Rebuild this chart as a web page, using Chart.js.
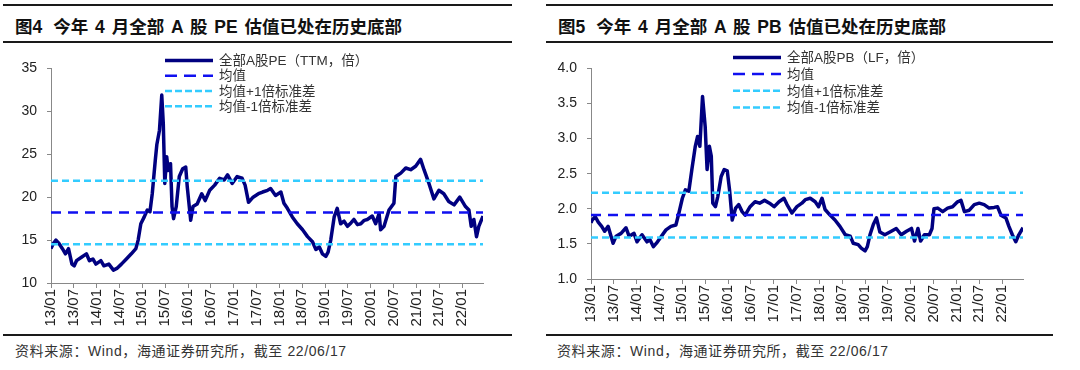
<!DOCTYPE html>
<html>
<head>
<meta charset="utf-8">
<script src="https://cdn.jsdelivr.net/npm/chart.js@4"></script>
<style>
body{margin:0;width:1080px;height:370px;background:#fff;position:relative;overflow:hidden;font-family:"Liberation Sans","Noto Sans CJK SC",sans-serif;color:#222}
.rule{position:absolute;height:2px;background:#1a1a1a}
.title{position:absolute;top:13px;font-weight:700;font-size:17.5px;white-space:pre;word-spacing:2px;color:#111}
.title span{margin-left:11px}
.src{position:absolute;top:340px;font-size:14px;letter-spacing:0.6px;white-space:pre;color:#333}
.box{position:absolute;top:50px}
</style>
</head>
<body>
<div class="rule" style="left:3px;top:4px;width:509px"></div>
<div class="title" style="left:15px">图4<span>今年 4 月全部 A 股 PE 估值已处在历史底部</span></div>
<div class="rule" style="left:3px;top:41px;width:509px"></div>
<div class="box" style="left:6px"><canvas id="pe" width="489" height="279"></canvas></div>
<div class="rule" style="left:3px;top:334px;width:509px"></div>
<div class="src" style="left:15px">资料来源：Wind，海通证券研究所，截至 22/06/17</div>

<div class="rule" style="left:546px;top:4px;width:507px"></div>
<div class="title" style="left:558px">图5<span>今年 4 月全部 A 股 PB 估值已处在历史底部</span></div>
<div class="rule" style="left:546px;top:41px;width:507px"></div>
<div class="box" style="left:546px"><canvas id="pb" width="489" height="275"></canvas></div>
<div class="rule" style="left:546px;top:334px;width:507px"></div>
<div class="src" style="left:557px">资料来源：Wind，海通证券研究所，截至 22/06/17</div>

<script>
// x positions are months since 2013/01
const xLabels = ['13/01','13/07','14/01','14/07','15/01','15/07','16/01','16/07','17/01','17/07',
  '18/01','18/07','19/01','19/07','20/01','20/07','21/01','21/07','22/01'];

const peMonths = [0,0.6,1.3,2.1,3,3.8,4.6,5.5,6.1,6.7,8,9.3,10.1,11,11.8,13.1,13.9,15.2,16.4,17.3,
  18.5,19.8,21.1,22.3,22.9,23.6,24.5,25.3,26,26.6,27.4,27.8,28.5,29.1,29.5,29.9,30.4,30.8,31.4,31.8,
  32.2,32.9,33.7,34.6,35.4,35.8,36.7,37.3,38.4,39.6,40.5,41.7,43,44.3,45.5,46.4,47.6,48.9,50.2,51,
  51.9,53.1,54.5,55.6,56.9,57.7,59,60.4,61.2,62.1,63.4,64.7,66.1,67.4,68.7,69.6,70.5,71.3,72.2,72.8,
  73.5,74.4,75.2,76.1,77,77.9,78.8,79.6,80.5,81.4,82.3,83.1,84.4,85.3,86.2,86.6,87.5,88.8,90.1,90.6,
  91.9,93.2,94.5,95.8,97.1,98,99.3,100.6,101.9,103.2,104.5,105.9,107.4,108.9,109.8,110.4,111.1,111.8,112.4,113.5];
const peValues = [14.0,14.6,15.0,14.6,14.0,13.4,14.0,12.2,12.0,12.6,13.0,13.4,12.6,12.8,12.2,12.6,12.0,12.2,11.5,11.7,
  12.2,12.8,13.4,14.0,15.0,16.9,17.7,18.5,18.3,20.4,24.3,26.1,27.8,31.9,28.6,21.6,24.7,23.1,23.9,18.9,
  17.5,18.9,22.4,23.3,23.5,21.2,17.3,18.9,19.2,20.4,19.6,20.8,21.4,22.2,22.0,22.6,21.6,22.4,22.2,21.4,
  19.4,20.0,20.4,20.6,20.8,21.0,20.2,20.6,19.3,18.7,17.7,16.9,16.2,15.4,14.8,13.9,14.2,13.4,13.1,13.6,
  15.0,17.7,18.7,16.9,17.2,16.6,17.0,17.4,16.8,16.9,17.3,17.4,17.8,16.9,18.1,16.2,16.6,18.5,19.3,22.4,
  22.8,23.4,23.2,23.6,24.4,23.2,21.6,19.8,20.8,20.4,19.5,19.1,20.0,18.9,18.5,16.6,17.4,15.4,16.6,17.8];
const peBands = [18.2, 21.9, 14.5];   // mean, mean+1sd, mean-1sd
const peNames = ['全部A股PE（TTM，倍）','均值','均值+1倍标准差','均值-1倍标准差'];

const pbMonths = [0,0.3,1.1,1.9,2.8,3.6,4.5,5.8,6.6,7.9,9.2,10,11.3,12.1,13.4,14.7,15.5,16.4,17.2,18.5,
  19.7,21,22.3,23.1,24,24.8,25.7,26.5,27.4,28,28.6,29.3,30,30.5,31.1,31.6,32,32.7,33.3,34.2,
  35,35.8,36.4,37.1,38,38.8,39.7,40.5,41.8,43.1,44.3,45.6,46.9,48.1,49.4,50.7,51.5,52.8,54.1,55.4,
  56.3,57.6,58.9,59.8,60.7,61.5,62.8,64.1,65.4,66.8,68.1,68.9,70.2,71,72,72.6,73.3,74.2,75,75.9,
  77.2,78.9,80.2,81.5,82.9,84.2,85,85.9,86.6,87.6,88.9,89.6,90.1,91.1,92.4,93.7,95,96.3,97.2,98.1,
  99.4,100.7,102,103.3,104.6,105.9,106.8,107.7,109,109.8,110.7,111.6,112.4,113.5];
const pbValues = [1.80,1.84,1.89,1.81,1.75,1.68,1.75,1.51,1.61,1.65,1.73,1.61,1.65,1.53,1.63,1.53,1.56,1.46,1.51,1.61,
  1.70,1.75,1.77,1.94,2.15,2.27,2.25,2.56,2.89,3.03,2.89,3.60,3.17,2.56,2.89,2.75,2.08,2.03,2.17,2.46,
  2.56,2.54,2.27,1.84,2.01,2.06,1.96,1.91,2.03,2.10,2.08,2.12,2.08,2.03,2.10,2.15,2.06,1.94,2.03,2.08,
  2.13,2.15,2.10,2.03,2.15,1.99,1.91,1.84,1.75,1.63,1.61,1.51,1.49,1.44,1.40,1.46,1.63,1.78,1.87,1.67,
  1.63,1.68,1.72,1.63,1.68,1.72,1.54,1.72,1.54,1.63,1.63,1.72,2.00,2.01,1.96,2.01,2.03,2.10,2.12,1.96,
  1.98,2.06,2.08,2.06,2.01,2.02,2.03,1.91,1.87,1.75,1.63,1.53,1.63,1.73];
const pbBands = [1.91, 2.23, 1.59];
const pbNames = ['全部A股PB（LF，倍）','均值','均值+1倍标准差','均值-1倍标准差'];

const tickFont = {family: '"Liberation Sans", Arial, sans-serif', size: 14};

const sideLegend = {
  id: 'sideLegend',
  afterDraw(chart, args, opts) {
    const ctx = chart.ctx, a = chart.chartArea;
    ctx.save();
    chart.data.datasets.forEach((ds, i) => {
      const x = a.left + opts.left;
      const y = a.top + opts.top + i * opts.gap;
      ctx.strokeStyle = ds.borderColor;
      ctx.lineWidth = ds.borderWidth;
      ctx.setLineDash(ds.legendDash || []);
      ctx.beginPath();
      ctx.moveTo(x, y);
      ctx.lineTo(x + 48, y);
      ctx.stroke();
      ctx.setLineDash([]);
      ctx.fillStyle = '#333';
      ctx.font = '13.5px "Liberation Sans", "Noto Sans CJK SC", sans-serif';
      ctx.textBaseline = 'middle';
      ctx.fillText(ds.label, x + 54, y + 1);
    });
    ctx.restore();
  }
};

function bandLine(v, last) {
  return [{x: 0, y: v}, {x: last, y: v}];
}

function makeChart(id, months, values, bands, names, yMin, yMax, yStep, digits, legendPos) {
  const last = months[months.length - 1];
  return new Chart(document.getElementById(id), {
    type: 'line',
    data: {
      datasets: [{
        label: names[0],
        data: months.map((m, i) => ({x: m, y: values[i]})),
        borderColor: '#000080',
        borderWidth: 3.5,
        borderJoinStyle: 'round',
        order: 4
      }, {
        label: names[1],
        data: bandLine(bands[0], last),
        borderColor: '#1010f0',
        borderWidth: 2.5,
        borderDash: [10, 7],
        legendDash: [12, 7],
        order: 1
      }, {
        label: names[2],
        data: bandLine(bands[1], last),
        borderColor: '#33ccff',
        borderWidth: 2.5,
        borderDash: [7, 4],
        legendDash: [7, 3],
        order: 2
      }, {
        label: names[3],
        data: bandLine(bands[2], last),
        borderColor: '#33ccff',
        borderWidth: 2.5,
        borderDash: [7, 4],
        legendDash: [7, 3],
        order: 3
      }]
    },
    options: {
      responsive: false,
      animation: false,
      devicePixelRatio: 1,
      layout: {padding: {top: 18, right: 12, left: 0, bottom: 0}},
      elements: {point: {radius: 0}, line: {tension: 0}},
      plugins: {legend: {display: false}, tooltip: {enabled: false}, sideLegend: legendPos},
      scales: {
        x: {
          type: 'linear',
          min: 0,
          max: last,
          afterBuildTicks: s => { s.ticks = xLabels.map((_, i) => ({value: i * 6})); },
          afterFit: s => { s.height = 46; },
          ticks: {
            callback: (v, i) => xLabels[i],
            minRotation: 90, maxRotation: 90, autoSkip: false,
            font: {family: tickFont.family, size: 15}, color: '#222', padding: 1
          },
          grid: {drawOnChartArea: false, tickLength: 5, color: '#888'},
          border: {color: '#888'}
        },
        y: {
          min: yMin,
          max: yMax,
          afterFit: s => { s.width = 45; },
          ticks: {
            stepSize: yStep,
            callback: v => v.toFixed(digits),
            font: tickFont, color: '#222', padding: 10
          },
          grid: {drawOnChartArea: false, tickLength: 4, color: '#888'},
          border: {color: '#888'}
        }
      }
    },
    plugins: [sideLegend]
  });
}

makeChart('pe', peMonths, peValues, peBands, peNames, 10, 35, 5, 0, {left: 114, top: -8, gap: 15.3});
makeChart('pb', pbMonths, pbValues, pbBands, pbNames, 1, 4, 0.5, 1, {left: 142, top: -11, gap: 16.7});
</script>
</body>
</html>
